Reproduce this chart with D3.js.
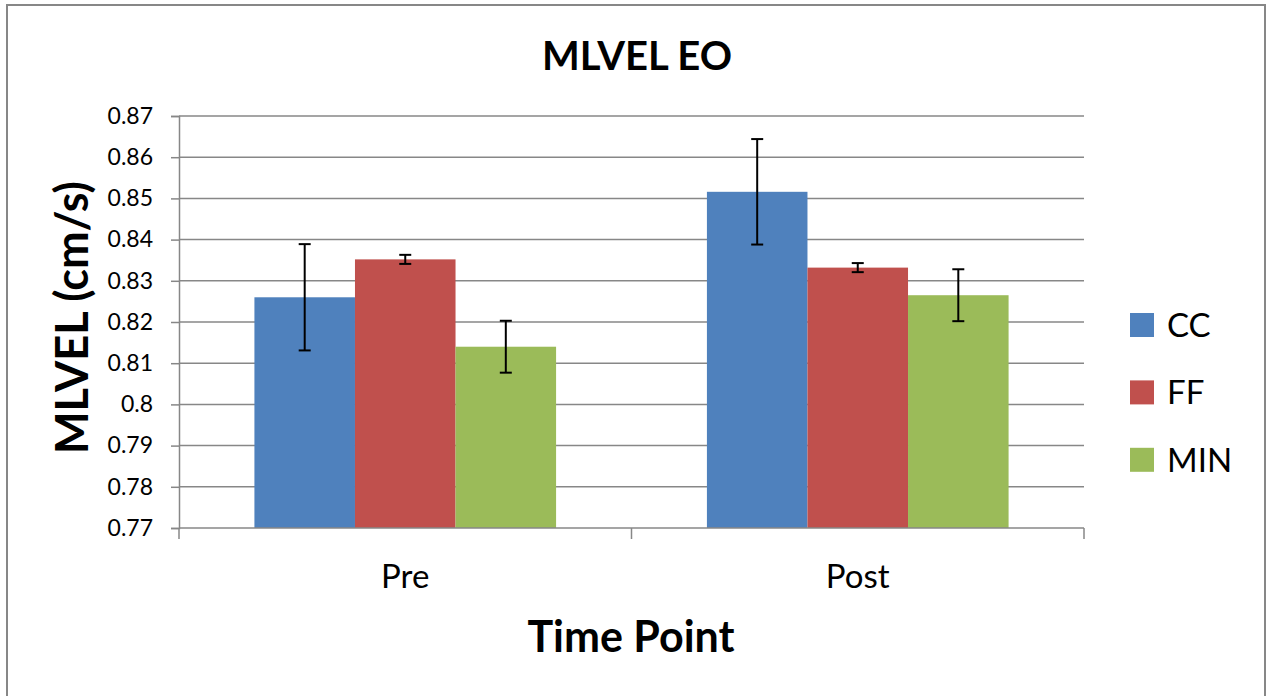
<!DOCTYPE html>
<html>
<head>
<meta charset="utf-8">
<script src="https://d3js.org/d3.v7.min.js"></script>
<style>
html,body{margin:0;padding:0;background:#fff;}
svg{display:block;font-family:Lato,"Open Sans",sans-serif;}
</style>
</head>
<body>
<svg id="chart" width="1266" height="696"></svg>
<script>
const categories = ["Pre", "Post"];
const seriesNames = ["CC", "FF", "MIN"];
const seriesColors = ["#4F81BD", "#C0504D", "#9BBB59"];
const valuesCC = [0.8260, 0.8516];
const valuesFF = [0.8352, 0.8332];
const valuesMIN = [0.8140, 0.8265];
const errorCC = [0.0129, 0.0128];
const errorFF = [0.0011, 0.0011];
const errorMIN = [0.0063, 0.0063];
const yTicks = [0.77, 0.78, 0.79, 0.80, 0.81, 0.82, 0.83, 0.84, 0.85, 0.86, 0.87];
const yTickLabels = ["0.77", "0.78", "0.79", "0.8", "0.81", "0.82", "0.83", "0.84", "0.85", "0.86", "0.87"];

const allValues = [valuesCC, valuesFF, valuesMIN];
const allErrors = [errorCC, errorFF, errorMIN];

const svg = d3.select("#chart");
const plot = {left: 179, right: 1084, top: 116, bottom: 528};

// outer border
svg.append("rect").attr("x", 7).attr("y", 5).attr("width", 1258).attr("height", 700)
  .attr("fill", "#fff").attr("stroke", "#878787").attr("stroke-width", 2);

const y = d3.scaleLinear().domain([0.77, 0.87]).range([plot.bottom, plot.top]);
const x0 = d3.scaleBand().domain(categories).range([plot.left, plot.right]).paddingInner(0).paddingOuter(0);
// Excel gap width 150% -> group padding
const x1 = d3.scaleBand().domain(seriesNames).range([0, x0.bandwidth()]).paddingInner(0).paddingOuter(0.75);

// gridlines
svg.append("g").selectAll("line").data(yTicks.slice(1)).join("line")
  .attr("x1", plot.left).attr("x2", plot.right)
  .attr("y1", d => y(d)).attr("y2", d => y(d))
  .attr("stroke", "#878787").attr("stroke-width", 1.5);

// y axis
const yAxis = d3.axisLeft(y).tickValues(yTicks).tickFormat((d, i) => yTickLabels[i]).tickSize(8).tickPadding(18);
const gy = svg.append("g").attr("transform", `translate(${plot.left},0)`).call(yAxis);
gy.select(".domain").attr("stroke", "#878787").attr("stroke-width", 1.5);
gy.selectAll(".tick line").attr("stroke", "#878787").attr("stroke-width", 1.5);
gy.selectAll(".tick text").attr("font-family", "Lato").attr("font-size", 23).attr("fill", "#000");

// bars
const groups = svg.append("g").selectAll("g").data(categories).join("g")
  .attr("transform", d => `translate(${x0(d)},0)`);
seriesNames.forEach((s, si) => {
  groups.append("rect")
    .attr("x", x1(s)).attr("width", x1.bandwidth())
    .attr("y", (d, ci) => y(allValues[si][ci]))
    .attr("height", (d, ci) => y(0.77) - y(allValues[si][ci]))
    .attr("fill", seriesColors[si]);
});

// x axis
const xAxisScale = d3.scaleLinear().domain([0, categories.length]).range([plot.left, plot.right]);
const gx = svg.append("g").attr("transform", `translate(0,${plot.bottom})`);
gx.append("line").attr("x1", plot.left).attr("x2", plot.right).attr("y1", 0).attr("y2", 0)
  .attr("stroke", "#878787").attr("stroke-width", 1.5);
gx.selectAll("line.tk").data(d3.range(categories.length + 1)).join("line").attr("class", "tk")
  .attr("x1", d => xAxisScale(d)).attr("x2", d => xAxisScale(d)).attr("y1", 0).attr("y2", 11)
  .attr("stroke", "#878787").attr("stroke-width", 1.5);
gx.selectAll("text").data(categories).join("text")
  .attr("x", d => x0(d) + x0.bandwidth() / 2).attr("y", 60)
  .attr("text-anchor", "middle").attr("font-size", 33).attr("fill", "#000").text(d => d);

// error bars
seriesNames.forEach((s, si) => {
  const g = svg.append("g");
  categories.forEach((c, ci) => {
    const cx = x0(c) + x1(s) + x1.bandwidth() / 2;
    const v = allValues[si][ci], e = allErrors[si][ci];
    g.append("line").attr("x1", cx).attr("x2", cx).attr("y1", y(v + e)).attr("y2", y(v - e))
      .attr("stroke", "#000").attr("stroke-width", 2);
    [v + e, v - e].forEach(t => {
      g.append("line").attr("x1", cx - 6).attr("x2", cx + 6).attr("y1", y(t)).attr("y2", y(t))
        .attr("stroke", "#000").attr("stroke-width", 2);
    });
  });
});

// title
svg.append("text").attr("x", 637).attr("y", 70).attr("text-anchor", "middle")
  .attr("font-size", 40).attr("font-weight", "bold").attr("fill", "#000").text("MLVEL EO");

// axis titles
svg.append("text").attr("x", 631).attr("y", 652).attr("text-anchor", "middle")
  .attr("font-size", 43).attr("font-weight", "bold").attr("fill", "#000").text("Time Point");
svg.append("text").attr("transform", `translate(88,${(180 + 455) / 2}) rotate(-90)`)
  .attr("text-anchor", "middle")
  .attr("font-size", 45).attr("font-weight", "bold").attr("fill", "#000").text("MLVEL (cm/s)");

// legend
const legend = svg.append("g").selectAll("g").data(seriesNames).join("g")
  .attr("transform", (d, i) => `translate(1130,${313 + i * 67.4})`);
legend.append("rect").attr("width", 24).attr("height", 24).attr("fill", (d, i) => seriesColors[i]);
legend.append("text").attr("x", 37).attr("y", 24).attr("font-size", 33).attr("fill", "#000").text(d => d);
</script>
</body>
</html>
